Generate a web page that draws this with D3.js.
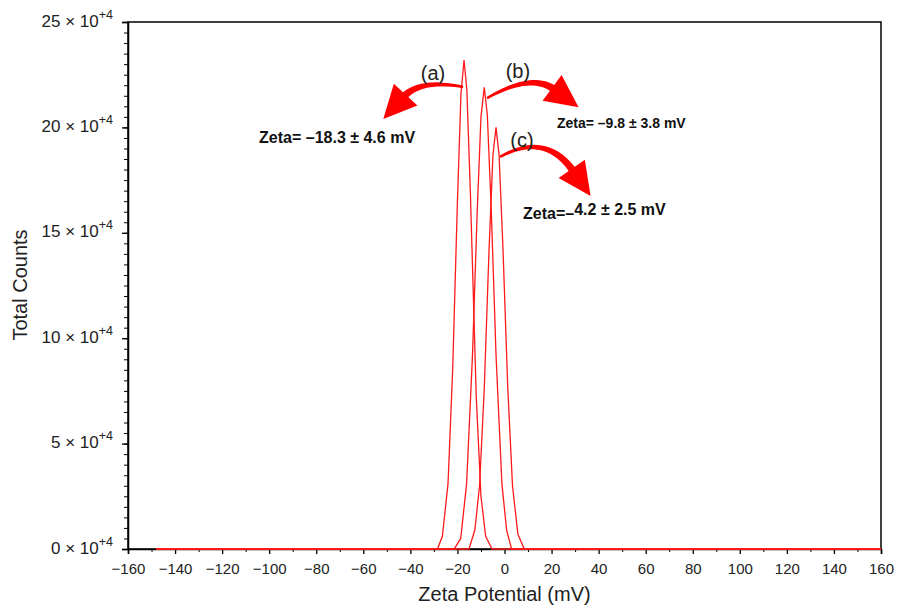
<!DOCTYPE html>
<html lang="en">
<head>
<meta charset="UTF-8">
<title>Zeta Potential</title>
<script src="https://d3js.org/d3.v7.min.js"></script>
<style>
  body { margin: 0; background: #fff; }
  svg { display: block; font-family: "Liberation Sans", Arial, sans-serif; }
</style>
</head>
<body>
<svg width="901" height="609"></svg>
<script>
// tick values
var xTickValues = [-160, -140, -120, -100, -80, -60, -40, -20, 0, 20, 40, 60, 80, 100, 120, 140, 160];
var yTickValues = [0, 5, 10, 15, 20, 25];
var yTickExponent = "+4";

// three zeta potential distributions (x in mV, y in 10^4 counts)
var seriesAx = [-148, -28.5, -26.4, -24, -22, -20, -18.5, -17.2, -16, -14.5, -12, -10, -8, -5.3, 160];
var seriesAy = [0, 0, 0.6, 3.1, 8.6, 16.5, 21.6, 23.2, 21.8, 16.9, 7.2, 2.5, 0.6, 0, 0];
var seriesBx = [-148, -21.4, -18.6, -16.1, -13.6, -11.6, -10.0, -8.6, -7.3, -5.6, -3.6, -1.1, 0.9, 3.0, 160];
var seriesBy = [0, 0, 0.5, 3.1, 9.2, 16.0, 20.5, 21.9, 20.6, 16.0, 9.2, 3.1, 0.9, 0, 0];
var seriesCx = [-148, -15.1, -12.6, -10.6, -8.6, -6.6, -4.9, -3.6, -2.3, -0.6, 1.4, 3.4, 5.7, 8.4, 160];
var seriesCy = [0, 0, 0.9, 3.0, 7.6, 14.1, 18.7, 20.0, 18.7, 14.1, 7.6, 3.0, 0.7, 0, 0];

// annotations (data units)
var peakLabels = ["(a)", "(b)", "(c)"];
var peakLabelPos = [[-30.4, 22.25], [5.7, 22.34], [7.4, 19.07]];
var zetaLabels = ["Zeta= \u201318.3 \u00b1 4.6 mV", "Zeta= \u20139.8 \u00b1 3.8 mV", "Zeta=\u2013"];
var zetaSizes = [16, 14, 16];
var zetaPos = [[-104.3, 19.26], [22.3, 19.97], [7.9, 15.65]];
// arrows: start, control, tip
var arrowStart = [[-17.6, 21.92], [-7.4, 21.39], [-1.9, 18.6]];
var arrowCtrl = [[-35.9, 22.3], [11.5, 22.6], [17.5, 19.8]];
var arrowTip = [[-51.5, 20.4], [31.5, 20.95], [36.6, 16.75]];

var svg = d3.select("svg");
var x = d3.scaleLinear().domain([-160, 160]).range([128, 881]);
var y = d3.scaleLinear().domain([0, 25]).range([549, 22]);

// frame
svg.append("rect")
  .attr("x", 128).attr("y", 22)
  .attr("width", 881 - 128).attr("height", 549 - 22)
  .attr("fill", "none").attr("stroke", "#000").attr("stroke-width", 1.5);

// x axis: minor then major
svg.append("g").attr("transform", "translate(0,549)")
  .call(d3.axisBottom(x).tickValues(d3.range(-150, 160, 20)).tickSize(3).tickFormat(""))
  .call(function(g) { g.select(".domain").remove(); });
var xa = svg.append("g").attr("transform", "translate(0,549)")
  .call(d3.axisBottom(x).tickValues(xTickValues).tickSize(5).tickPadding(9)
    .tickFormat(function(d) { return d < 0 ? "\u2212" + Math.abs(d) : d; }));
xa.select(".domain").attr("stroke-width", 1.5);
xa.selectAll(".tick line").attr("stroke-width", 1.3);
xa.selectAll("text").attr("font-size", 15).attr("fill", "#222")
  .attr("font-family", "Liberation Sans, Arial, sans-serif");

// y axis
svg.append("g").attr("transform", "translate(128,0)")
  .call(d3.axisLeft(y).tickValues(d3.range(0, 25.01, 0.5)).tickSize(4).tickFormat(""))
  .call(function(g) { g.select(".domain").remove(); });
var ya = svg.append("g").attr("transform", "translate(128,0)")
  .call(d3.axisLeft(y).tickValues(yTickValues).tickSize(6).tickFormat(""));
ya.select(".domain").attr("stroke-width", 1.5);
ya.selectAll(".tick line").attr("stroke-width", 1.3);
ya.selectAll(".tick").each(function(d) {
  var t = d3.select(this).append("text")
    .attr("x", -15).attr("y", 4)
    .attr("text-anchor", "end").attr("fill", "#222")
    .attr("font-family", "Liberation Sans, Arial, sans-serif")
    .attr("font-size", 17);
  t.append("tspan").text(d + " \u00d7 10");
  t.append("tspan").attr("font-size", 12.5).attr("dy", -8).text(yTickExponent);
});

// axis titles
svg.append("text")
  .attr("x", (128 + 881) / 2).attr("y", 601)
  .attr("text-anchor", "middle").attr("font-size", 20).attr("fill", "#222")
  .text("Zeta Potential (mV)");
svg.append("text")
  .attr("transform", "translate(27," + (285) + ") rotate(-90)")
  .attr("text-anchor", "middle").attr("font-size", 20).attr("fill", "#222")
  .text("Total Counts");

// series lines
var line = d3.line().x(function(d) { return x(d[0]); }).y(function(d) { return y(d[1]); });
[[seriesAx, seriesAy], [seriesBx, seriesBy], [seriesCx, seriesCy]].forEach(function(s) {
  var pts = s[0].map(function(v, i) { return [v, s[1][i]]; });
  svg.append("path").datum(pts)
    .attr("d", line)
    .attr("fill", "none")
    .attr("stroke", "#ff1a1a")
    .attr("stroke-width", 1.3);
});

// arrows: tapered curved body + triangle head
for (var i = 0; i < 3; i++) {
  var s = [x(arrowStart[i][0]), y(arrowStart[i][1])];
  var c = [x(arrowCtrl[i][0]), y(arrowCtrl[i][1])];
  var t = [x(arrowTip[i][0]), y(arrowTip[i][1])];
  var dx = t[0] - c[0], dy = t[1] - c[1];
  var len = Math.sqrt(dx * dx + dy * dy);
  var ux = dx / len, uy = dy / len;
  var L = 33, W = 16;
  var b = [t[0] - ux * (L - 3), t[1] - uy * (L - 3)];
  var left = [], right = [];
  for (var k = 0; k <= 20; k++) {
    var u = k / 20;
    var px = (1 - u) * (1 - u) * s[0] + 2 * (1 - u) * u * c[0] + u * u * b[0];
    var py = (1 - u) * (1 - u) * s[1] + 2 * (1 - u) * u * c[1] + u * u * b[1];
    var tx = 2 * (1 - u) * (c[0] - s[0]) + 2 * u * (b[0] - c[0]);
    var ty = 2 * (1 - u) * (c[1] - s[1]) + 2 * u * (b[1] - c[1]);
    var tl = Math.sqrt(tx * tx + ty * ty);
    var w = (2.5 + 5 * u) / 2;
    left.push([px - ty / tl * w, py + tx / tl * w]);
    right.push([px + ty / tl * w, py - tx / tl * w]);
  }
  svg.append("path")
    .attr("d", "M" + left.join("L") + "L" + right.reverse().join("L") + "Z")
    .attr("fill", "#ff0000");
  var hb = [t[0] - ux * L, t[1] - uy * L];
  svg.append("path")
    .attr("d", "M" + t + "L" + [hb[0] - uy * W, hb[1] + ux * W] + "L" + [hb[0] + uy * W, hb[1] - ux * W] + "Z")
    .attr("fill", "#ff0000");
}

// peak labels
peakLabels.forEach(function(l, i) {
  svg.append("text")
    .attr("x", x(peakLabelPos[i][0])).attr("y", y(peakLabelPos[i][1]))
    .attr("text-anchor", "middle").attr("font-size", 20).attr("fill", "#222")
    .text(l);
});

// zeta labels
zetaLabels.forEach(function(l, i) {
  var t = svg.append("text")
    .attr("x", x(zetaPos[i][0])).attr("y", y(zetaPos[i][1]))
    .attr("font-size", zetaSizes[i]).attr("font-weight", "bold").attr("fill", "#111")
    .text(l);
  if (i == 2) t.append("tspan").attr("dy", -4).text("4.2 \u00b1 2.5 mV");
});
</script>
</body>
</html>
